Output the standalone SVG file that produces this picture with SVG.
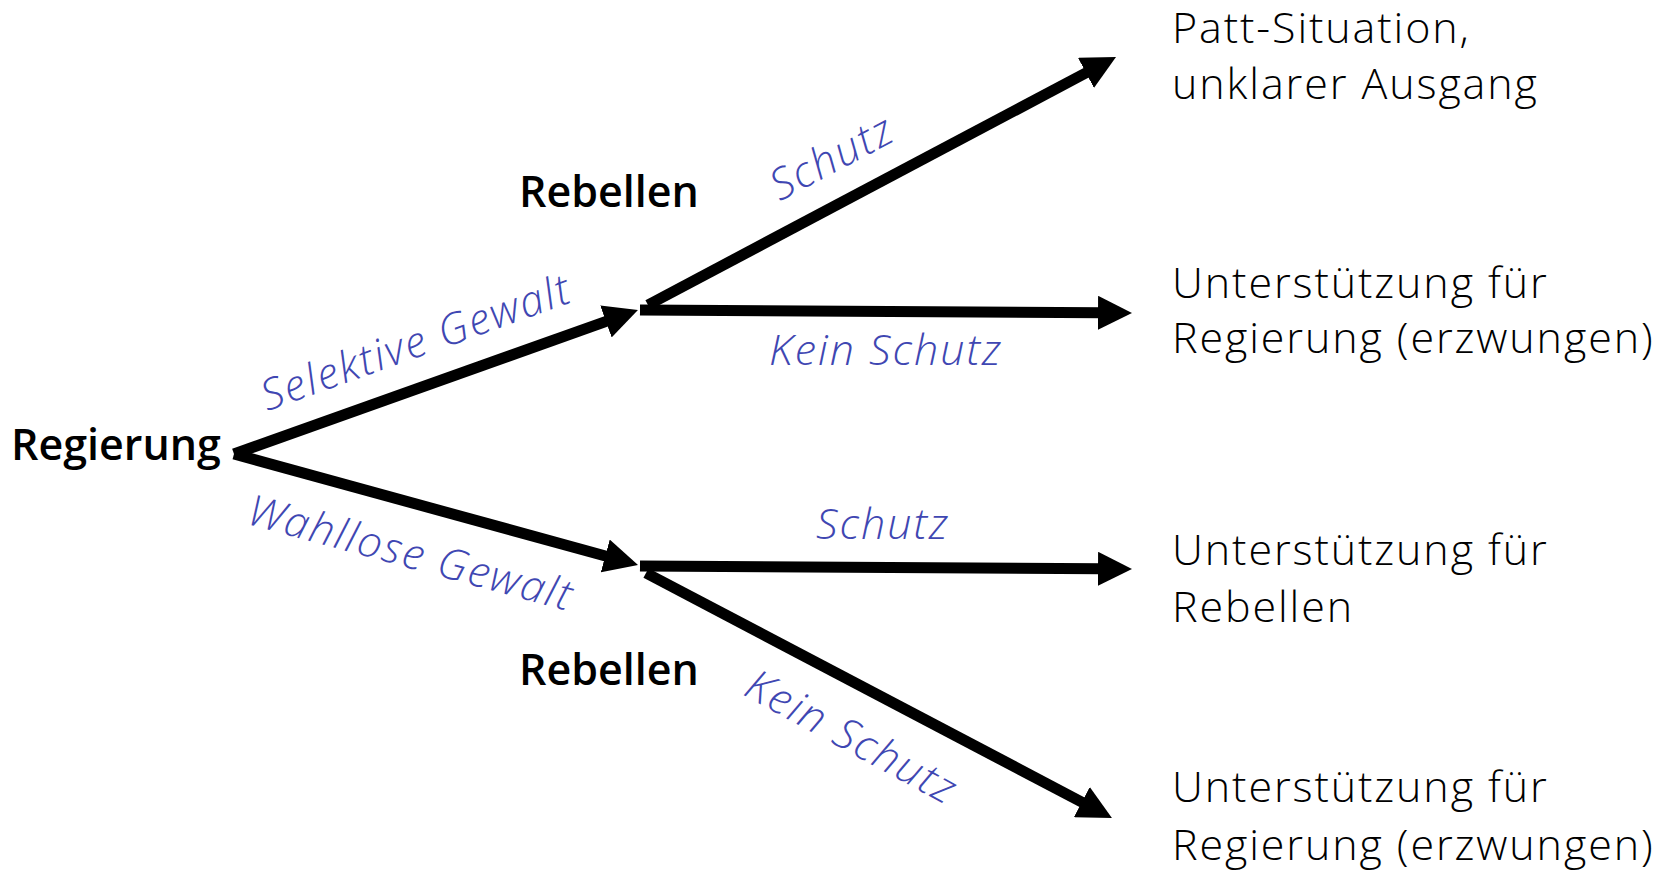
<svg xmlns="http://www.w3.org/2000/svg" width="1669" height="872" viewBox="0 0 1669 872">
<defs>
<marker id="ah" markerUnits="userSpaceOnUse" markerWidth="34" markerHeight="34" refX="4" refY="17" orient="auto">
<path d="M0,0 L34,17 L0,34 z" fill="#000"/>
</marker>
<style>
.bold{font-family:"Open Sans","Noto Sans",sans-serif;font-weight:600;font-size:43px;fill:#000}
.out{font-family:"Open Sans","Noto Sans",sans-serif;font-weight:300;font-size:43px;letter-spacing:1.9px;fill:#000}
.lab{font-family:"Open Sans","Noto Sans",sans-serif;font-weight:300;font-style:italic;font-size:43px;letter-spacing:2px;fill:#3F47B2}
.edge{stroke:#000;stroke-width:11;fill:none;marker-end:url(#ah)}
</style>
</defs>
<rect width="1669" height="872" fill="#fff"/>
<g id="connectors">
<line class="edge" x1="234" y1="454" x2="609.7" y2="320.1"/>
<line class="edge" x1="234" y1="454" x2="609.1" y2="557"/>
<line class="edge" x1="648" y1="305" x2="1089.5" y2="71"/>
<line class="edge" x1="640" y1="310" x2="1102" y2="312.8"/>
<line class="edge" x1="640" y1="566" x2="1102" y2="568.8"/>
<line class="edge" x1="646" y1="573" x2="1085.4" y2="804"/>
</g>
<g id="labels">
<text class="lab" text-anchor="middle" transform="translate(416,342) rotate(-19.7)" x="0" y="15">Selektive Gewalt</text>
<text class="lab" text-anchor="middle" transform="translate(411,553) rotate(15.2)" x="0" y="15">Wahllose Gewalt</text>
<text class="lab" text-anchor="middle" transform="translate(832,157) rotate(-27.9)" x="0" y="15">Schutz</text>
<text class="lab" x="769" y="365">Kein Schutz</text>
<text class="lab" x="816" y="539">Schutz</text>
<text class="lab" text-anchor="middle" transform="translate(852,737) rotate(28.5)" x="0" y="15">Kein Schutz</text>
</g>
<g id="node-regierung"><text class="bold" x="11" y="460">Regierung</text></g>
<g id="node-rebellen-1"><text class="bold" x="519" y="207">Rebellen</text></g>
<g id="node-rebellen-2"><text class="bold" x="519" y="685">Rebellen</text></g>
<g id="node-out-1"><text class="out" x="1172" y="43">Patt-Situation,</text><text class="out" x="1172" y="99">unklarer Ausgang</text></g>
<g id="node-out-2"><text class="out" x="1172" y="298">Unterstützung für</text><text class="out" x="1172" y="353">Regierung (erzwungen)</text></g>
<g id="node-out-3"><text class="out" x="1172" y="565">Unterstützung für</text><text class="out" x="1172" y="622">Rebellen</text></g>
<g id="node-out-4"><text class="out" x="1172" y="802">Unterstützung für</text><text class="out" x="1172" y="860">Regierung (erzwungen)</text></g>
</svg>
